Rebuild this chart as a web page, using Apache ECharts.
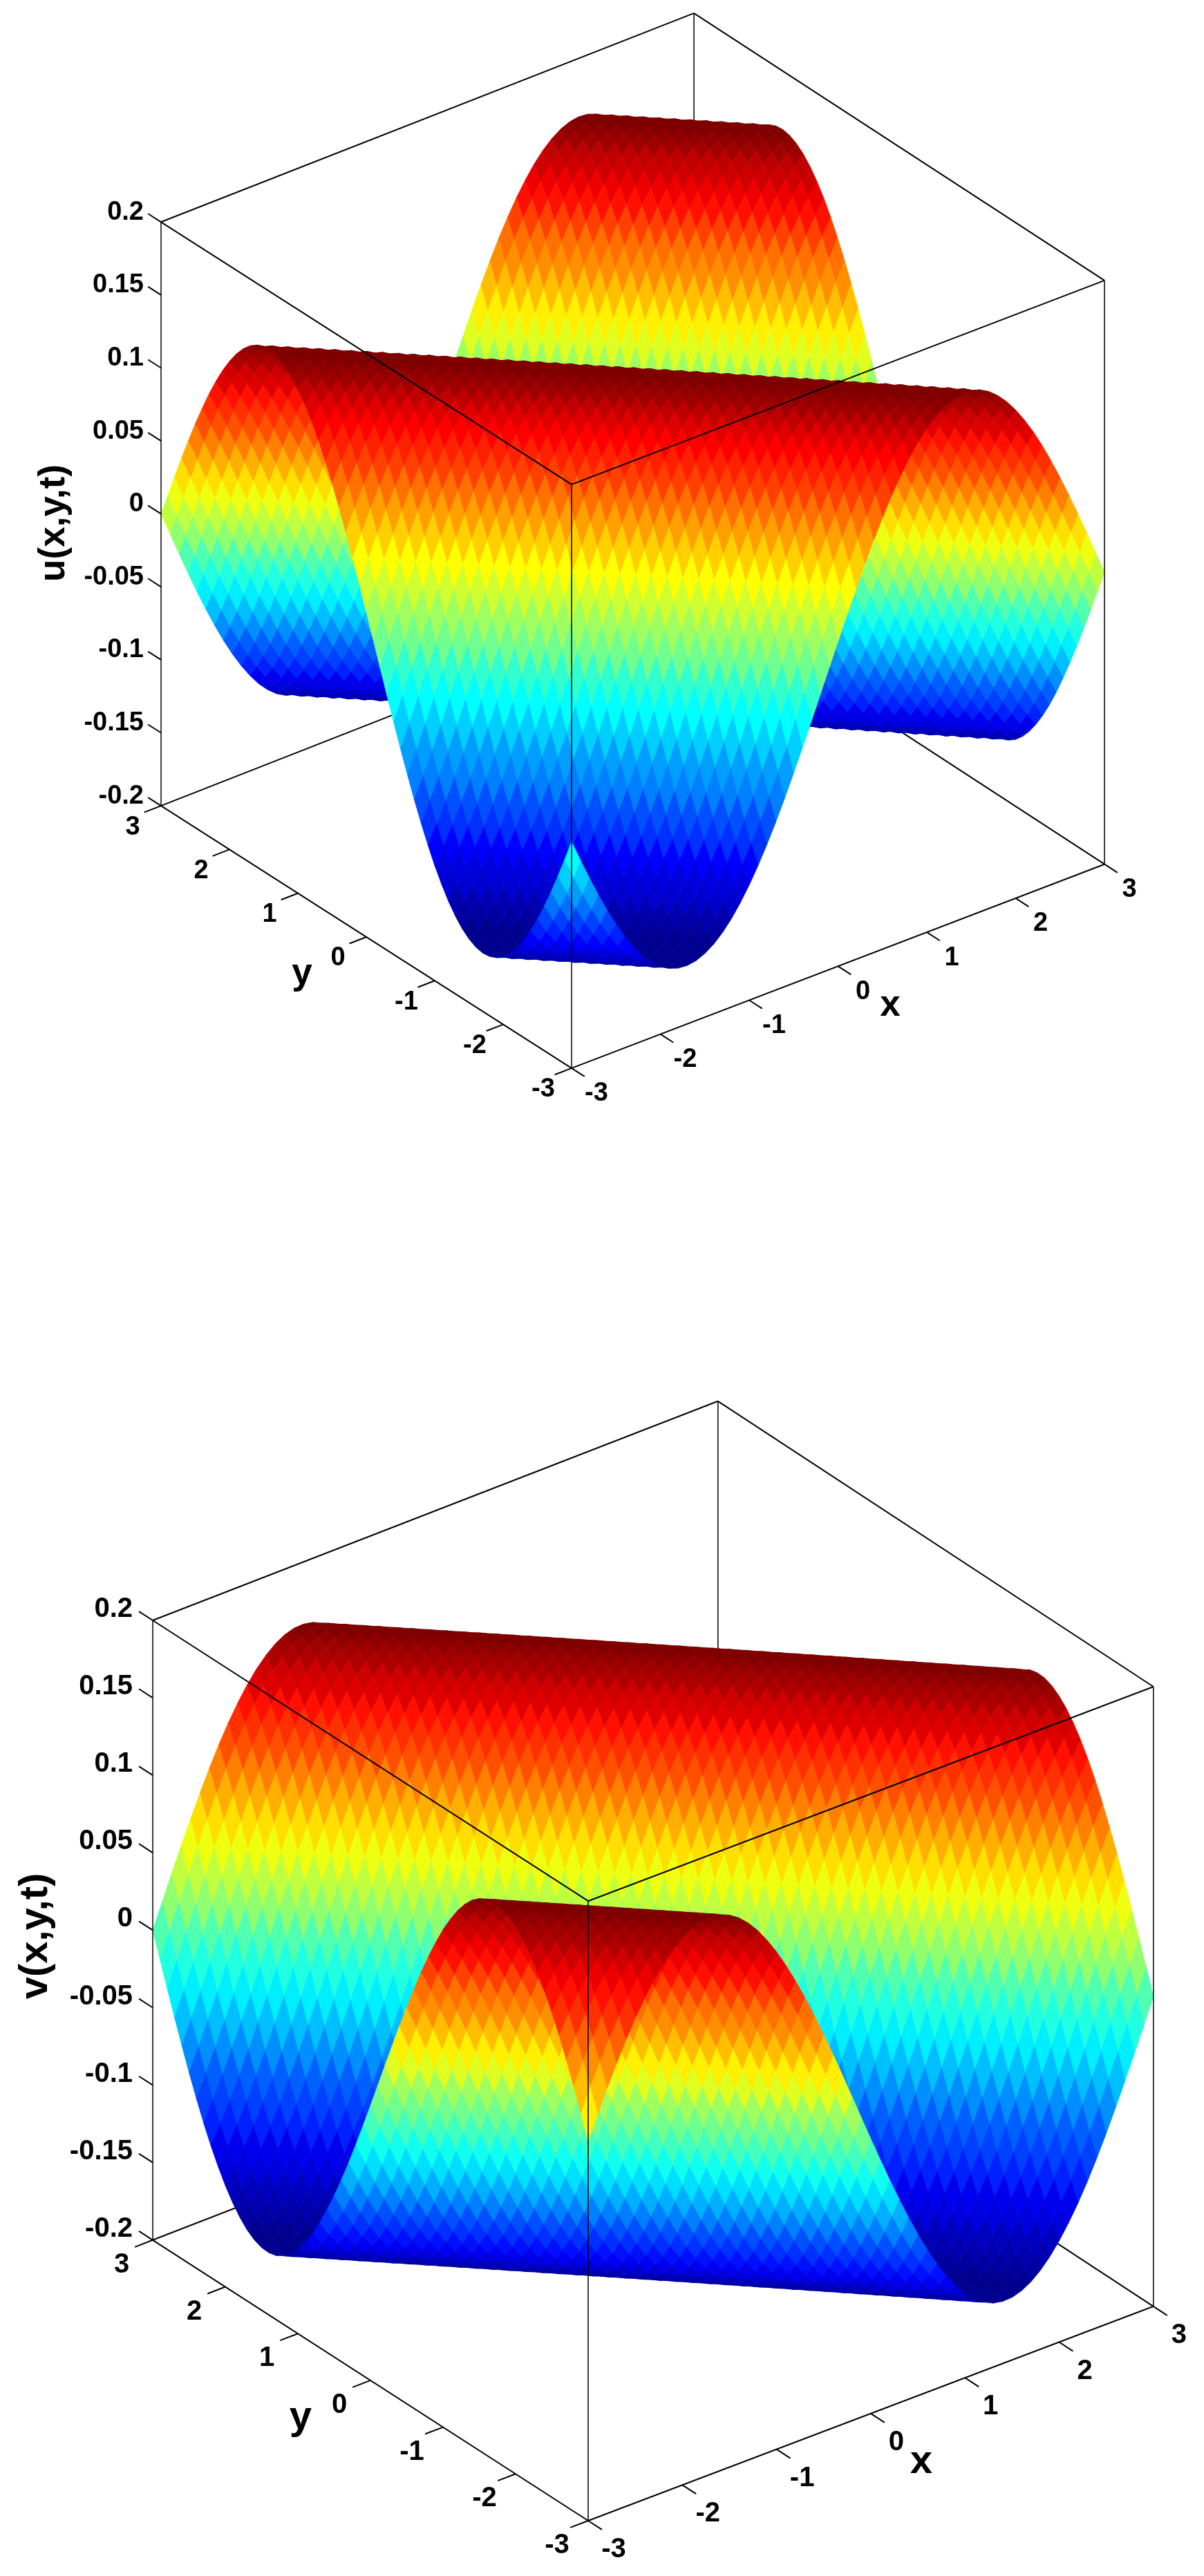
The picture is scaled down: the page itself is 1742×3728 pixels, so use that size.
<!DOCTYPE html>
<html>
<head>
<meta charset="utf-8">
<style>html,body{margin:0;padding:0;background:#fff}#main{width:1742px;height:3728px}</style>
<script src="https://cdn.jsdelivr.net/npm/echarts@6/dist/echarts.min.js"></script>
</head>
<body>
<div id="main"></div>
<script>
// Mesh coordinates
const meshX = [-3,-2.9,-2.8,-2.7,-2.6,-2.5,-2.4,-2.3,-2.2,-2.1,-2,-1.9,-1.8,-1.7,-1.6,-1.5,-1.4,-1.3,-1.2,-1.1,-1,-0.9,-0.8,-0.7,-0.6,-0.5,-0.4,-0.3,-0.2,-0.1,0,0.1,0.2,0.3,0.4,0.5,0.6,0.7,0.8,0.9,1,1.1,1.2,1.3,1.4,1.5,1.6,1.7,1.8,1.9,2,2.1,2.2,2.3,2.4,2.5,2.6,2.7,2.8,2.9,3];
const meshY = [-3,-2.9,-2.8,-2.7,-2.6,-2.5,-2.4,-2.3,-2.2,-2.1,-2,-1.9,-1.8,-1.7,-1.6,-1.5,-1.4,-1.3,-1.2,-1.1,-1,-0.9,-0.8,-0.7,-0.6,-0.5,-0.4,-0.3,-0.2,-0.1,0,0.1,0.2,0.3,0.4,0.5,0.6,0.7,0.8,0.9,1,1.1,1.2,1.3,1.4,1.5,1.6,1.7,1.8,1.9,2,2.1,2.2,2.3,2.4,2.5,2.6,2.7,2.8,2.9,3];

// Surface height along the diagonal x+y, from x+y=-6 to x+y=6 in steps of 0.1
const uProfile = [-0.0447,-0.0598,-0.0743,-0.0881,-0.1010,-0.1129,-0.1236,-0.1332,-0.1414,-0.1481,-0.1534,-0.1572,-0.1594,-0.1600,-0.1590,-0.1564,-0.1523,-0.1466,-0.1395,-0.1309,-0.1211,-0.1100,-0.0979,-0.0848,-0.0708,-0.0561,-0.0409,-0.0252,-0.0093,0.0067,0.0226,0.0383,0.0536,0.0684,0.0825,0.0958,0.1081,0.1193,0.1294,0.1381,0.1455,0.1514,0.1558,0.1587,0.1599,0.1596,0.1577,0.1542,0.1491,0.1426,0.1346,0.1253,0.1148,0.1031,0.0903,0.0767,0.0623,0.0473,0.0318,0.0160,0,-0.0160,-0.0318,-0.0473,-0.0623,-0.0767,-0.0903,-0.1031,-0.1148,-0.1253,-0.1346,-0.1426,-0.1491,-0.1542,-0.1577,-0.1596,-0.1599,-0.1587,-0.1558,-0.1514,-0.1455,-0.1381,-0.1294,-0.1193,-0.1081,-0.0958,-0.0825,-0.0684,-0.0536,-0.0383,-0.0226,-0.0067,0.0093,0.0252,0.0409,0.0561,0.0708,0.0848,0.0979,0.1100,0.1211,0.1309,0.1395,0.1466,0.1523,0.1564,0.1590,0.1600,0.1594,0.1572,0.1534,0.1481,0.1414,0.1332,0.1236,0.1129,0.1010,0.0881,0.0743,0.0598,0.0447];
const vProfile = [0.0447,0.0598,0.0743,0.0881,0.1010,0.1129,0.1236,0.1332,0.1414,0.1481,0.1534,0.1572,0.1594,0.1600,0.1590,0.1564,0.1523,0.1466,0.1395,0.1309,0.1211,0.1100,0.0979,0.0848,0.0708,0.0561,0.0409,0.0252,0.0093,-0.0067,-0.0226,-0.0383,-0.0536,-0.0684,-0.0825,-0.0958,-0.1081,-0.1193,-0.1294,-0.1381,-0.1455,-0.1514,-0.1558,-0.1587,-0.1599,-0.1596,-0.1577,-0.1542,-0.1491,-0.1426,-0.1346,-0.1253,-0.1148,-0.1031,-0.0903,-0.0767,-0.0623,-0.0473,-0.0318,-0.0160,0,0.0160,0.0318,0.0473,0.0623,0.0767,0.0903,0.1031,0.1148,0.1253,0.1346,0.1426,0.1491,0.1542,0.1577,0.1596,0.1599,0.1587,0.1558,0.1514,0.1455,0.1381,0.1294,0.1193,0.1081,0.0958,0.0825,0.0684,0.0536,0.0383,0.0226,0.0067,-0.0093,-0.0252,-0.0409,-0.0561,-0.0708,-0.0848,-0.0979,-0.1100,-0.1211,-0.1309,-0.1395,-0.1466,-0.1523,-0.1564,-0.1590,-0.1600,-0.1594,-0.1572,-0.1534,-0.1481,-0.1414,-0.1332,-0.1236,-0.1129,-0.1010,-0.0881,-0.0743,-0.0598,-0.0447];

// Axis ticks
const xTicks = [-3,-2,-1,0,1,2,3];
const yTicks = [-3,-2,-1,0,1,2,3];
const zTicks = [-0.2,-0.15,-0.1,-0.05,0,0.05,0.1,0.15,0.2];
const zTickLabels = ['-0.2','-0.15','-0.1','-0.05','0','0.05','0.1','0.15','0.2'];

// Fixed 3-D views: plot-frame origin and the plot-frame length of one axis unit
const viewU = {ox:915.5, oy:786, ex:[128.5,-49.2], ey:[-99,-63.3], ez:-2112, twist:7,
  tickFont:38, titleFont:53, xOff:[36,37], yOff:[-41,31], zOff:[-25,-14],
  zTitle:'u(x,y,t)', zTitlePos:[78,757], yTitlePos:[437,1409], xTitlePos:[1288,1455]};
const viewV = {ox:944.9, oy:2841.4, ex:[136.3,-51.7], ey:[-105,-67.7], ez:-2242, twist:7,
  tickFont:40, titleFont:58, xOff:[37,42], yOff:[-45,36], zOff:[-29,-16],
  zTitle:'v(x,y,t)', zTitlePos:[52,2802], yTitlePos:[435,3499], xTitlePos:[1333,3563]};

const FONT = '"Liberation Sans", Arial, sans-serif';

function project(v, x, y, z) {
  return [v.ox + v.ex[0]*x + v.ey[0]*y,
          v.oy + v.ex[1]*x + v.ey[1]*y + v.ez*z - v.twist*(x+3)*(y+3)/36];
}
function clamp01(a){ return Math.max(0, Math.min(1, a)); }
function jet(z, zmin, zmax) {
  let k = Math.floor((z - zmin) / (zmax - zmin) * 64);
  k = Math.max(0, Math.min(63, k));
  const t = (k + 1) / 64;
  const r = clamp01(1.5 - Math.abs(4*t - 3));
  const g = clamp01(1.5 - Math.abs(4*t - 2));
  const b = clamp01(1.5 - Math.abs(4*t - 1));
  return 'rgb(' + Math.round(r*255) + ',' + Math.round(g*255) + ',' + Math.round(b*255) + ')';
}

function edgeSeries(v, edges, z) {
  return {
    type:'custom', coordinateSystem:'cartesian2d', silent:true, animation:false, clip:false, z:z,
    data:edges,
    encode:{x:[], y:[]},
    renderItem:function(params, api){
      const a = api.coord(project(v, api.value(0), api.value(1), api.value(2)));
      const b = api.coord(project(v, api.value(3), api.value(4), api.value(5)));
      return {type:'line', shape:{x1:a[0],y1:a[1],x2:b[0],y2:b[1]}, style:{stroke:'#000',lineWidth:api.value(6)}};
    }
  };
}

function surfaceSeries(v, profile) {
  const zmin = Math.min.apply(null, profile), zmax = Math.max.apply(null, profile);
  const cells = [];
  for (let i = 0; i < meshX.length - 1; i++)
    for (let j = 0; j < meshY.length - 1; j++) cells.push([i, j]);
  cells.sort(function(a,b){ return (b[0]+b[1]) - (a[0]+a[1]); });
  return {
    type:'custom', coordinateSystem:'cartesian2d', silent:true, animation:false, clip:false, z:2,
    progressive:0, data:cells, encode:{x:[], y:[]},
    renderItem:function(params, api){
      const i = api.value(0), j = api.value(1), k = i + j;
      const pts = [
        project(v, meshX[i], meshY[j], profile[k]),
        project(v, meshX[i+1], meshY[j], profile[k+1]),
        project(v, meshX[i+1], meshY[j+1], profile[k+2]),
        project(v, meshX[i], meshY[j+1], profile[k+1])
      ].map(function(p){ return api.coord(p); });
      const c = jet(profile[k], zmin, zmax);
      return {type:'polygon', shape:{points:pts}, style:{fill:c, stroke:c, lineWidth:0.7}};
    }
  };
}

function textSeries(v) {
  const items = [];
  xTicks.forEach(function(t){ const p = project(v, t, -3, -0.2);
    items.push([p[0]+v.xOff[0], p[1]+v.xOff[1], String(t), v.tickFont, 'center', 0]); });
  yTicks.forEach(function(t){ const p = project(v, -3, t, -0.2);
    items.push([p[0]+v.yOff[0], p[1]+v.yOff[1], String(t), v.tickFont, 'center', 0]); });
  zTicks.forEach(function(t, idx){ const p = project(v, -3, 3, t);
    items.push([p[0]+v.zOff[0], p[1]+v.zOff[1], zTickLabels[idx], v.tickFont, 'right', 0]); });
  items.push([v.xTitlePos[0], v.xTitlePos[1], 'x', v.titleFont, 'center', 0]);
  items.push([v.yTitlePos[0], v.yTitlePos[1], 'y', v.titleFont, 'center', 0]);
  items.push([v.zTitlePos[0], v.zTitlePos[1], v.zTitle, v.titleFont, 'center', 1]);
  return {
    type:'custom', coordinateSystem:'cartesian2d', silent:true, animation:false, clip:false, z:4,
    dimensions:['a','b',{name:'t',type:'ordinal'},'f',{name:'al',type:'ordinal'},'r'],
    data:items, encode:{x:0, y:1},
    renderItem:function(params, api){
      const it = items[params.dataIndex];
      const c = api.coord([it[0], it[1]]);
      return {type:'text', x:c[0], y:c[1], rotation:it[5] ? Math.PI/2 : 0,
        style:{text:it[2], fill:'#000', textAlign:it[4], textVerticalAlign:'middle',
               font:'bold ' + it[3] + 'px ' + FONT}};
    }
  };
}

function frameEdges() {
  const x0=-3,x1=3,y0=-3,y1=3,z0=-0.2,z1=0.2,w=2,u=1.5;
  return {
    back:[[x0,y1,z1,x1,y1,z1,w],[x1,y1,z1,x1,y0,z1,w],[x1,y1,z1,x1,y1,z0,u],
          [x0,y1,z0,x1,y1,z0,w],[x1,y0,z0,x1,y1,z0,w]],
    front:[[x0,y1,z1,x0,y0,z1,w],[x0,y0,z1,x1,y0,z1,w],[x0,y0,z1,x0,y0,z0,u],
           [x0,y1,z1,x0,y1,z0,u],[x1,y0,z1,x1,y0,z0,u],[x0,y1,z0,x0,y0,z0,w],[x0,y0,z0,x1,y0,z0,w]]
  };
}
function tickEdges() {
  const L=0.19, w=2, out=[];
  xTicks.forEach(function(t){ out.push([t,-3,-0.2,t,-3-L,-0.2,w]); });
  yTicks.forEach(function(t){ out.push([-3,t,-0.2,-3-L,t,-0.2,w]); });
  zTicks.forEach(function(t){ out.push([-3,3,t,-3,3+L,t,w]); });
  return out;
}

const fe = frameEdges(), te = tickEdges();
const chart = echarts.init(document.getElementById('main'), null, {renderer:'canvas'});
chart.setOption({
  backgroundColor:'#fff',
  animation:false,
  grid:{left:0, right:0, top:0, bottom:0},
  xAxis:{type:'value', min:0, max:1742, show:false},
  yAxis:{type:'value', min:0, max:3728, inverse:true, show:false},
  series:[
    edgeSeries(viewU, fe.back, 1), surfaceSeries(viewU, uProfile), edgeSeries(viewU, fe.front.concat(te), 3), textSeries(viewU),
    edgeSeries(viewV, fe.back, 1), surfaceSeries(viewV, vProfile), edgeSeries(viewV, fe.front.concat(te), 3), textSeries(viewV)
  ]
});
</script>
</body>
</html>
